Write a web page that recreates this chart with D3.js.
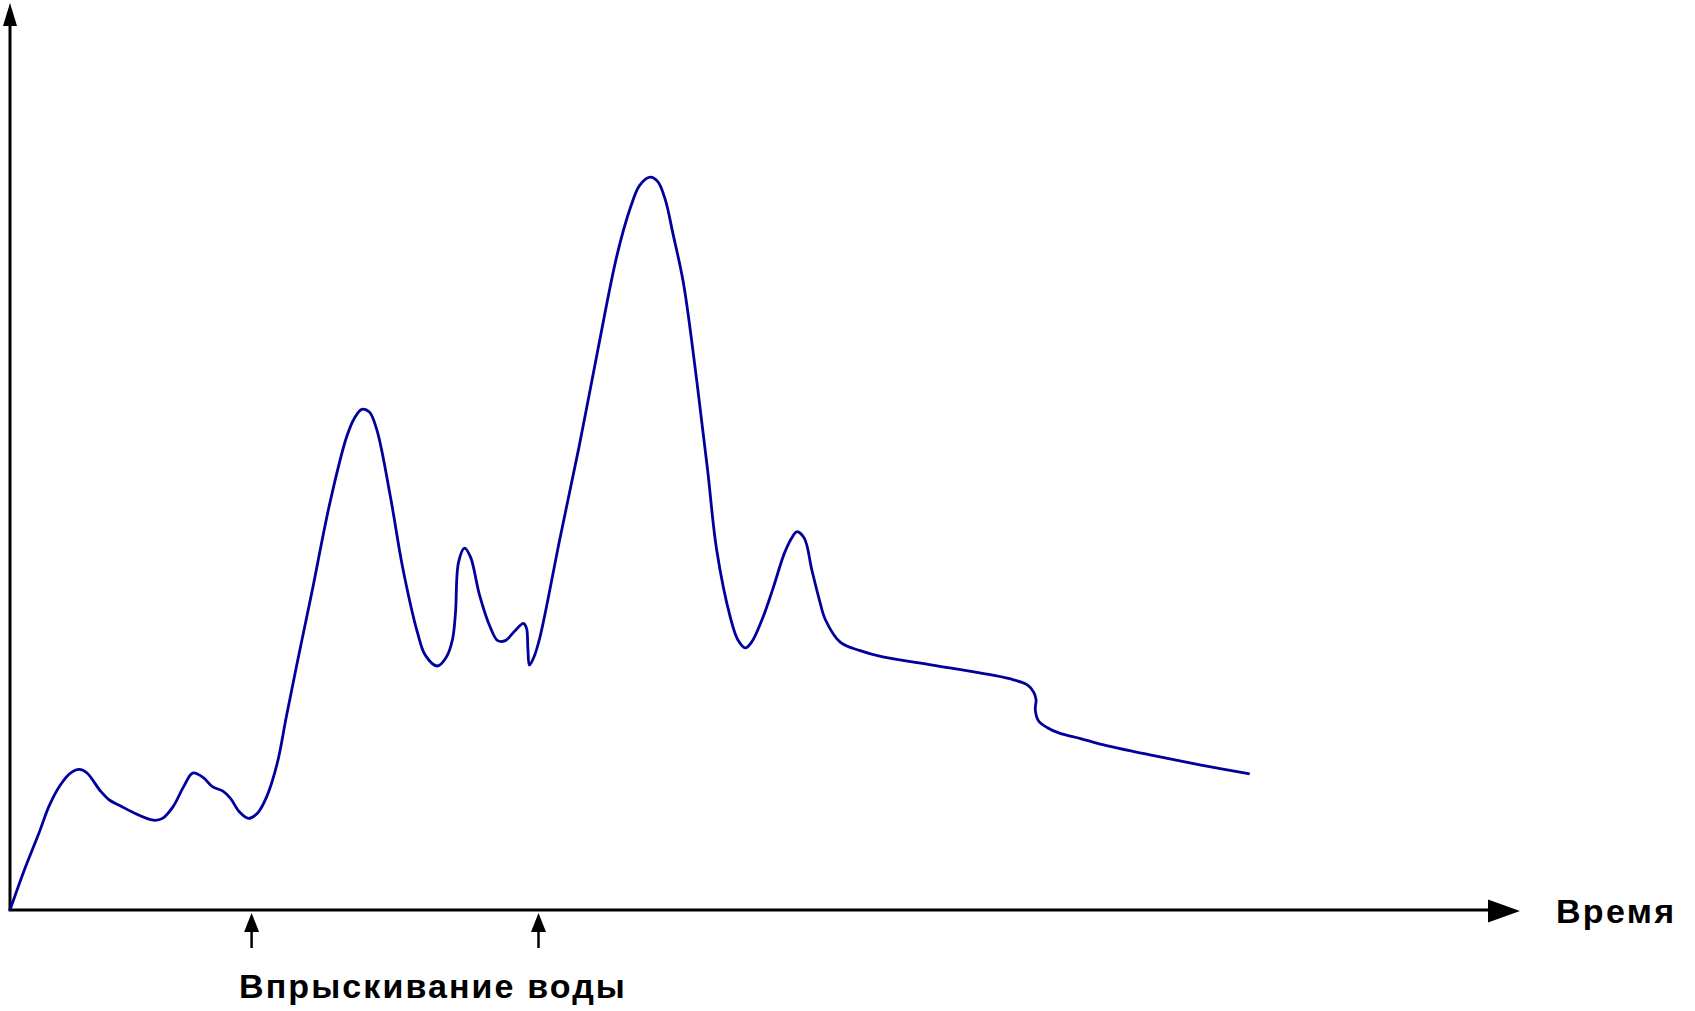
<!DOCTYPE html>
<html>
<head>
<meta charset="utf-8">
<script src="https://cdn.jsdelivr.net/npm/d3@7"></script>
<style>
  html, body { margin: 0; padding: 0; background: #fff; }
  svg { display: block; }
  text { font-family: "Liberation Sans", Arial, sans-serif; font-weight: bold; fill: #000; }
</style>
</head>
<body>
<svg id="chart" width="1695" height="1011"></svg>
<script>
// Signal trace over time (arbitrary units, 0–100 on both axes)
const time = [
  0, 0.9, 1.9, 2.6, 3.3, 4.0, 4.6, 5.1, 6.0, 6.6, 7.3, 8.1, 9.5, 10.1, 10.8, 11.5, 12.1, 12.8, 13.4, 14.1, 14.6,
  15.2, 15.8, 16.4, 17.0, 17.7, 18.3, 19.1, 20.0, 21.2, 22.3, 22.8, 23.3, 23.8, 24.3, 25.2, 26.0,
  27.0, 27.5, 28.3, 28.9, 29.3, 29.5, 29.7, 30.1, 30.5, 31.1, 31.8, 32.3, 32.8, 33.4, 34.0, 34.2,
  34.3, 34.4, 34.7, 35.1, 36.4, 37.7, 38.9, 40.2, 41.1, 41.7, 42.4, 42.9, 43.4, 43.9, 44.6, 45.5,
  46.2, 46.8, 47.7, 48.2, 48.7, 49.1, 49.8, 50.5, 51.3, 51.8, 52.1, 52.6, 53.1, 53.6, 54.0, 55.0, 56.3,
  57.8, 61.1, 64.4, 66.2, 67.4, 67.8, 67.95, 67.9, 68.1, 68.7, 69.5, 70.9, 72.2, 75.5, 78.8, 82.1
];
const signal = [
  0, 4.2, 8.4, 11.5, 13.7, 15.1, 15.5, 15.1, 13.1, 12.1, 11.5, 10.8, 9.9, 10.1, 11.4, 13.6, 15.1, 14.6, 13.6, 13.1, 12.3,
  10.8, 10.1, 10.7, 12.5, 16.2, 21.3, 27.9, 35.1, 45.0, 52.2, 54.2, 55.2, 54.9, 52.9, 45.5, 37.8,
  30.5, 28.1, 26.9, 27.9, 29.8, 32.7, 38.3, 39.9, 38.9, 34.7, 31.2, 29.7, 29.7, 30.7, 31.6, 31.1,
  28.7, 27.0, 27.9, 30.1, 40.8, 51.2, 61.5, 72.2, 77.5, 79.9, 80.8, 80.3, 78.3, 74.6, 69.1, 58.1,
  48.5, 39.7, 32.3, 29.8, 28.9, 29.5, 32.0, 35.3, 39.4, 41.1, 41.7, 41.0, 37.5, 34.2, 32.0, 29.5, 28.6,
  27.9, 27.0, 26.1, 25.5, 24.8, 24.0, 23.2, 22.1, 20.9, 20.1, 19.5, 18.9, 18.3, 17.1, 16.0, 15.0
];
// Moments of water injection (time units)
const injections = [16, 35];
const xLabel = "Время";
const injectionLabel = "Впрыскивание воды";

const svg = d3.select("#chart");
const x = d3.scaleLinear().domain([0, 100]).range([10, 1520]);
const y = d3.scaleLinear().domain([0, 100]).range([910, 3]);

const data = time.map((t, i) => ({ t, v: signal[i] }));

// Axes with arrowheads
const axisG = svg.append("g");
axisG.append("line")
  .attr("x1", x(0)).attr("y1", y(0)).attr("x2", x(0)).attr("y2", y(100) + 20)
  .attr("stroke", "#000").attr("stroke-width", 3);
axisG.append("line")
  .attr("x1", x(0) - 1.5).attr("y1", y(0)).attr("x2", x(100) - 28).attr("y2", y(0))
  .attr("stroke", "#000").attr("stroke-width", 3);
axisG.append("path")
  .attr("d", `M${x(0)},${y(100)} L${x(0) - 7},${y(100) + 23} L${x(0) + 7},${y(100) + 23} Z`)
  .attr("fill", "#000");
axisG.append("path")
  .attr("d", `M${x(100)},${y(0) + 1} L${x(100) - 32},${y(0) - 10.5} L${x(100) - 32},${y(0) + 12.5} Z`)
  .attr("fill", "#000");

// Injection markers below the time axis
const inj = svg.append("g").selectAll("g").data(injections).join("g")
  .attr("transform", d => `translate(${x(d)},0)`);
inj.append("line")
  .attr("x1", 0).attr("x2", 0).attr("y1", y(0) + 18).attr("y2", y(0) + 38)
  .attr("stroke", "#000").attr("stroke-width", 2.5);
inj.append("path")
  .attr("d", `M0,${y(0) + 3} L-7.5,${y(0) + 22} L7.5,${y(0) + 22} Z`)
  .attr("fill", "#000");

// Signal curve
const line = d3.line()
  .x(d => x(d.t))
  .y(d => y(d.v))
  .curve(d3.curveCatmullRom.alpha(0.5));
svg.append("path")
  .datum(data)
  .attr("d", line)
  .attr("fill", "none")
  .attr("stroke", "#00009c")
  .attr("stroke-width", 2.8)
  .attr("stroke-linejoin", "round")
  .attr("stroke-linecap", "butt");

// Labels
svg.append("text")
  .attr("x", 1556).attr("y", 923)
  .attr("font-size", 34)
  .attr("letter-spacing", 2.3)
  .text(xLabel);
svg.append("text")
  .attr("x", 239).attr("y", 998)
  .attr("font-size", 34)
  .attr("letter-spacing", 2.1)
  .text(injectionLabel);
</script>
</body>
</html>
